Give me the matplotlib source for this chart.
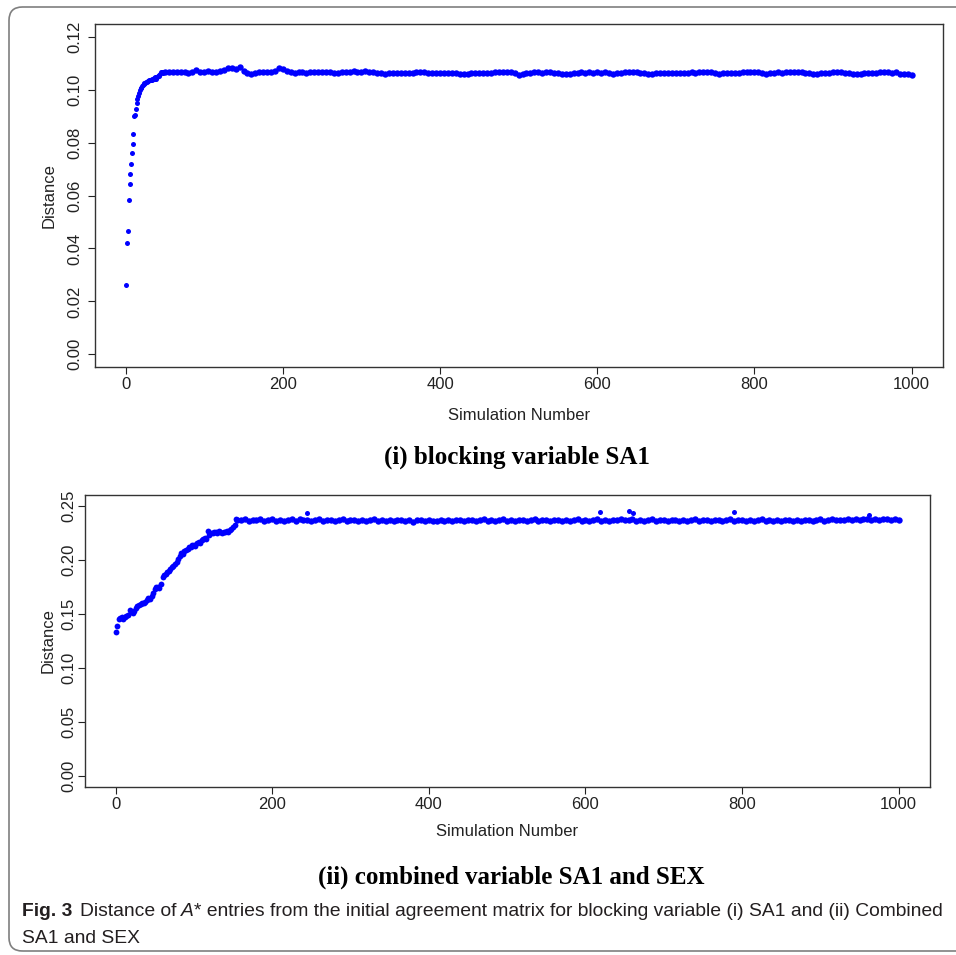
import matplotlib
matplotlib.use("Agg")
import matplotlib.pyplot as plt
from matplotlib.patches import FancyBboxPatch

# ---- panel (i): blocking variable SA1 ----
sim1_early = list(range(1, 49))
dist1_early = [
    0.0262, 0.0419, 0.0465, 0.0582, 0.0643, 0.0681, 0.0720, 0.0759, 0.0794, 0.0831,
    0.0900, 0.0903, 0.0928, 0.0950, 0.0965, 0.0975, 0.0989, 0.0998, 0.1005, 0.1008,
    0.1015, 0.1018, 0.1020, 0.1024, 0.1026, 0.1028, 0.1030, 0.1031, 0.1033, 0.1035,
    0.1036, 0.1038, 0.1040, 0.1038, 0.1042, 0.1044, 0.1041, 0.1046, 0.1040, 0.1048,
    0.1050, 0.1053, 0.1056, 0.1060, 0.1066, 0.1068, 0.1066, 0.1064,
]
sim1_flat = list(range(50, 1001, 5))
dist1_flat = [
    0.1066, 0.1067, 0.1066, 0.1065, 0.1066, 0.1065, 0.1064, 0.1066, 0.1074, 0.1066,
    0.1065, 0.1072, 0.1065, 0.1068, 0.1072, 0.1075, 0.1082, 0.1080, 0.1078, 0.1085,
    0.1072, 0.1064, 0.1059, 0.1063, 0.1066, 0.1067, 0.1068, 0.1067, 0.1072, 0.1083,
    0.1078, 0.1072, 0.1066, 0.1064, 0.1065, 0.1067, 0.1062, 0.1066, 0.1067, 0.1067,
    0.1068, 0.1066, 0.1067, 0.1064, 0.1061, 0.1066, 0.1068, 0.1068, 0.1069, 0.1068,
    0.1068, 0.1072, 0.1068, 0.1065, 0.1064, 0.1061, 0.1060, 0.1061, 0.1062, 0.1064,
    0.1064, 0.1064, 0.1063, 0.1064, 0.1066, 0.1068, 0.1067, 0.1062, 0.1062, 0.1062,
    0.1063, 0.1062, 0.1061, 0.1062, 0.1063, 0.1060, 0.1058, 0.1060, 0.1062, 0.1063,
    0.1062, 0.1063, 0.1064, 0.1064, 0.1065, 0.1066, 0.1066, 0.1067, 0.1067, 0.1062,
    0.1057, 0.1060, 0.1063, 0.1064, 0.1065, 0.1065, 0.1064, 0.1065, 0.1066, 0.1064,
    0.1061, 0.1058, 0.1058, 0.1059, 0.1061, 0.1064, 0.1065, 0.1064, 0.1067, 0.1064,
    0.1065, 0.1064, 0.1068, 0.1062, 0.1060, 0.1063, 0.1064, 0.1065, 0.1066, 0.1066,
    0.1067, 0.1064, 0.1062, 0.1058, 0.1060, 0.1062, 0.1063, 0.1064, 0.1064, 0.1063,
    0.1062, 0.1063, 0.1062, 0.1063, 0.1065, 0.1064, 0.1066, 0.1067, 0.1068, 0.1066,
    0.1062, 0.1059, 0.1062, 0.1063, 0.1064, 0.1064, 0.1064, 0.1065, 0.1066, 0.1067,
    0.1066, 0.1066, 0.1063, 0.1059, 0.1062, 0.1064, 0.1065, 0.1064, 0.1065, 0.1066,
    0.1066, 0.1068, 0.1066, 0.1064, 0.1062, 0.1058, 0.1060, 0.1063, 0.1064, 0.1063,
    0.1065, 0.1066, 0.1066, 0.1062, 0.1061, 0.1060, 0.1060, 0.1060, 0.1061, 0.1061,
    0.1062, 0.1064, 0.1065, 0.1066, 0.1065, 0.1064, 0.1066, 0.1060, 0.1058, 0.1059,
    0.1057,
]

# ---- panel (ii): combined variable SA1 and SEX ----
sim2_early = [1, 2] + list(range(4, 155, 2))
dist2_early = [
    0.1336, 0.1385,
    0.1452, 0.1462, 0.1470, 0.1458, 0.1475, 0.1480, 0.1492, 0.1540, 0.1518, 0.1505,
    0.1530, 0.1555, 0.1570, 0.1585, 0.1590, 0.1598, 0.1600, 0.1610, 0.1625, 0.1650,
    0.1640, 0.1670, 0.1698, 0.1735, 0.1745, 0.1752, 0.1738, 0.1780, 0.1840, 0.1860,
    0.1870, 0.1885, 0.1900, 0.1915, 0.1930, 0.1945, 0.1960, 0.1985, 0.2010, 0.2040,
    0.2060, 0.2050, 0.2085, 0.2095, 0.2100, 0.2115, 0.2120, 0.2140, 0.2135, 0.2130,
    0.2155, 0.2165, 0.2158, 0.2185, 0.2190, 0.2200, 0.2195, 0.2270, 0.2230, 0.2250,
    0.2245, 0.2255, 0.2262, 0.2250, 0.2265, 0.2258, 0.2245, 0.2260, 0.2255, 0.2265,
    0.2262, 0.2275, 0.2290, 0.2305, 0.2320, 0.2380,
]
sim2_flat = list(range(155, 1001, 5))
dist2_flat = [
    0.2372, 0.2365, 0.2378, 0.2360, 0.2370, 0.2366, 0.2374, 0.2358, 0.2369, 0.2375,
    0.2362, 0.2370, 0.2356, 0.2368, 0.2374, 0.2363, 0.2380, 0.2366, 0.2371, 0.2360,
    0.2368, 0.2376, 0.2357, 0.2365, 0.2372, 0.2361, 0.2369, 0.2374, 0.2355, 0.2366,
    0.2370, 0.2362, 0.2373, 0.2358, 0.2367, 0.2376, 0.2360, 0.2369, 0.2364, 0.2372,
    0.2357, 0.2366, 0.2371, 0.2362, 0.2368, 0.2353, 0.2365, 0.2372, 0.2360, 0.2367,
    0.2363, 0.2356, 0.2368, 0.2361, 0.2370, 0.2358, 0.2366, 0.2373, 0.2360, 0.2365,
    0.2369, 0.2357, 0.2366, 0.2374, 0.2362, 0.2370, 0.2359, 0.2367, 0.2376, 0.2363,
    0.2368, 0.2360, 0.2372, 0.2365, 0.2357, 0.2369, 0.2374, 0.2361, 0.2367, 0.2371,
    0.2358, 0.2366, 0.2373, 0.2362, 0.2369, 0.2356, 0.2367, 0.2375, 0.2363, 0.2370,
    0.2360, 0.2368, 0.2378, 0.2364, 0.2371, 0.2359, 0.2373, 0.2366, 0.2380, 0.2369,
    0.2372, 0.2375, 0.2362, 0.2370, 0.2358, 0.2367, 0.2374, 0.2361, 0.2369, 0.2365,
    0.2357, 0.2368, 0.2372, 0.2363, 0.2370, 0.2359, 0.2366, 0.2375, 0.2362, 0.2369,
    0.2371, 0.2360, 0.2367, 0.2373, 0.2362, 0.2369, 0.2376, 0.2358, 0.2366, 0.2371,
    0.2363, 0.2370, 0.2357, 0.2368, 0.2374, 0.2361, 0.2369, 0.2364, 0.2372, 0.2359,
    0.2367, 0.2373, 0.2362, 0.2369, 0.2356, 0.2366, 0.2371, 0.2363, 0.2370, 0.2375,
    0.2364, 0.2371, 0.2377, 0.2366, 0.2373, 0.2368, 0.2380, 0.2372, 0.2378, 0.2370,
    0.2376, 0.2382, 0.2371, 0.2378, 0.2369, 0.2381, 0.2374, 0.2367, 0.2379, 0.2372,
]
sim2_out = [245, 619, 655, 661, 790, 962]
dist2_out = [0.2435, 0.2444, 0.2456, 0.2437, 0.2444, 0.2412]

x_ticks = [0, 200, 400, 600, 800, 1000]
y1_ticks = [0.00, 0.02, 0.04, 0.06, 0.08, 0.10, 0.12]
y2_ticks = [0.00, 0.05, 0.10, 0.15, 0.20, 0.25]

title1 = "(i) blocking variable SA1"
title2 = "(ii) combined variable SA1 and SEX"

W, H = 956, 955
plt.rcParams["font.family"] = ["Liberation Sans", "DejaVu Sans"]
fig = plt.figure(figsize=(W / 100, H / 100), dpi=100)


def px_axes(l, t, r, b):
    return fig.add_axes([l / W, 1 - b / H, (r - l) / W, (b - t) / H])


def r_style(ax, yticks, ylim, ypad, ylabpad, xlabpad):
    ax.set_xlim(1 - 0.04 * 999, 1000 + 0.04 * 999)
    ax.set_ylim(*ylim)
    ax.set_xticks(x_ticks)
    ax.set_xticklabels([str(v) for v in x_ticks])
    ax.set_yticks(yticks)
    ax.set_yticklabels([f"{v:.2f}" for v in yticks], rotation=90, va="center")
    ax.tick_params(direction="out", length=5, width=0.8, labelsize=12, colors="#222222")
    ax.tick_params(axis="y", pad=ypad)
    ax.tick_params(axis="x", pad=2.5)
    for s in ax.spines.values():
        s.set_linewidth(1.0)
        s.set_color("#333333")
    ax.set_xlabel("Simulation Number", fontsize=12, labelpad=xlabpad, color="#222222")
    ax.set_ylabel("Distance", fontsize=12, labelpad=ylabpad, color="#222222")


blue = "#0000ff"
ax1 = px_axes(95, 24, 943, 367)
ax1.plot(sim1_early, dist1_early, "o", color=blue, ms=3.6, mew=0)
ax1.plot(sim1_flat, dist1_flat, "o", color=blue, ms=4.6, mew=0)
r_style(ax1, y1_ticks, (-0.0048, 0.1248), 4, 8, 11)

ax2 = px_axes(85, 495, 930, 787)
ax2.plot(sim2_early, dist2_early, "o", color=blue, ms=4.2, mew=0)
ax2.plot(sim2_flat, dist2_flat, "o", color=blue, ms=4.6, mew=0)
ax2.plot(sim2_out, dist2_out, "o", color=blue, ms=3.6, mew=0)
r_style(ax2, y2_ticks, (-0.01, 0.26), 1.5, 4, 8)

# panel titles
serif = ["Liberation Serif", "DejaVu Serif"]
fig.text(517 / W, 1 - 457 / H, title1, ha="center", va="center",
         fontsize=18, fontweight="bold", family=serif)
fig.text(511 / W, 1 - 877 / H, title2, ha="center", va="center",
         fontsize=18, fontweight="bold", family=serif)

# caption, laid out piece by piece
cap_font = ["Liberation Sans Narrow", "Liberation Sans", "DejaVu Sans"]
renderer = fig.canvas.get_renderer()


def place_line(x_px, y_px, pieces, size):
    made = []
    x = x_px
    for txt, kw, gap in pieces:
        t = fig.text(x / W, 1 - y_px / H, txt, fontsize=size, ha="left",
                     va="baseline", family=cap_font, color="#231f20", **kw)
        made.append(t)
        x = t.get_window_extent(renderer).x1 + gap * size / 12
    return made, x


line1 = [
    ("Fig. 3", {"fontweight": "bold"}, 7),
    ("Distance of", {}, 3.5),
    ("A", {"style": "italic"}, 0.5),
    ("* entries from the initial agreement matrix for blocking variable (i) SA1 and (ii) Combined", {}, 0),
]
made, end = place_line(22, 916, line1, 13)
size = 13 * (945 - 22) / (end - 22)
for t in made:
    t.remove()
place_line(22, 916, line1, size)
place_line(22, 943, [("SA1 and SEX", {}, 0)], size)

# rounded frame of the figure panel
frame = FancyBboxPatch((9 / W, 1 - 951 / H), 1.2, (951 - 7) / H,
                       boxstyle="round,pad=0,rounding_size=0.014",
                       transform=fig.transFigure, fill=False,
                       edgecolor="#7f7f7f", linewidth=1.2)
fig.patches.append(frame)

fig.savefig("out.png", dpi=100)
